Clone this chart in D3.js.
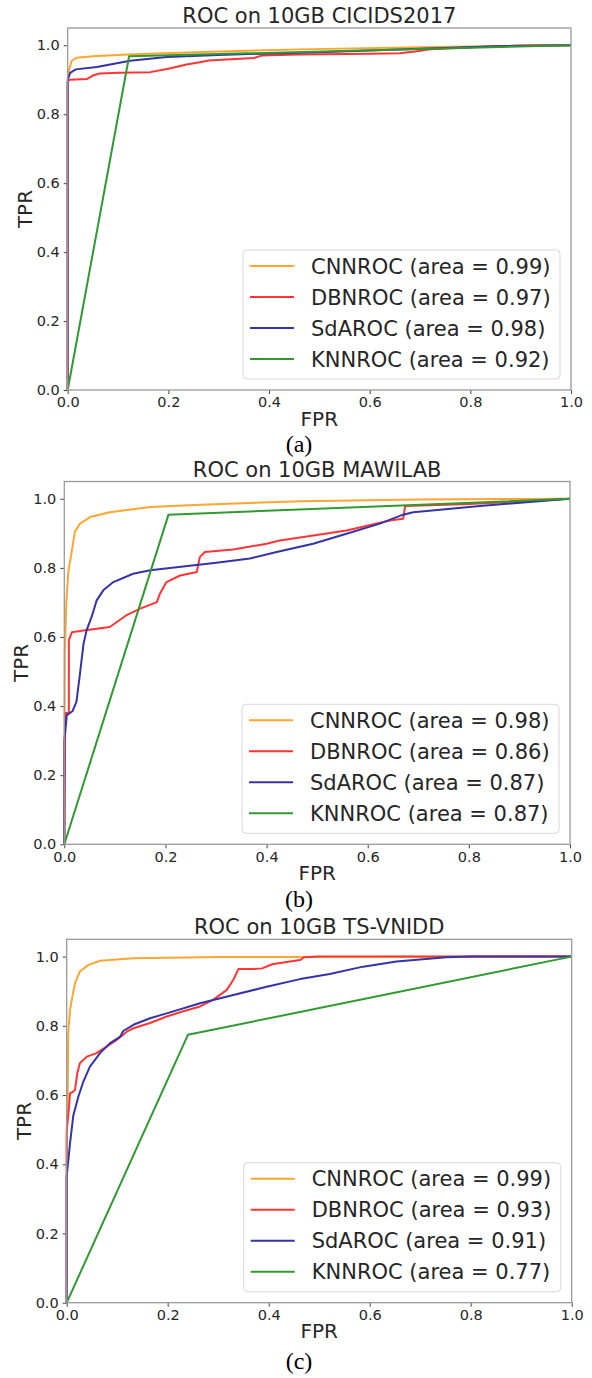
<!DOCTYPE html>
<html>
<head>
<meta charset="utf-8">
<script src="https://cdn.jsdelivr.net/npm/d3@7"></script>
<style>
  body { margin: 0; background: #fff; }
  svg text { font-family: "DejaVu Sans", sans-serif; fill: #262626; }
</style>
</head>
<body>
<svg id="fig" width="592" height="1378"></svg>
<script>
// ---- data: [FPR, TPR] points ----
var modelNames = ["CNNROC", "DBNROC", "SdAROC", "KNNROC"];
var modelColors = ["#ffa531", "#ff3434", "#3434a8", "#2f9a2f"];
var titles = ["ROC on 10GB CICIDS2017", "ROC on 10GB MAWILAB", "ROC on 10GB TS-VNIDD"];
var captions = ["(a)", "(b)", "(c)"];
var xTicks = [0, 0.2, 0.4, 0.6, 0.8, 1.0];
var yTicks = [0, 0.2, 0.4, 0.6, 0.8, 1.0];

var cicAuc = [0.99, 0.97, 0.98, 0.92];
var mawAuc = [0.98, 0.86, 0.87, 0.87];
var vniAuc = [0.99, 0.93, 0.91, 0.77];

var cicCnn = [[0,0],[0,0.88],[0.003,0.93],[0.008,0.955],[0.018,0.964],[0.05,0.968],[0.13,0.974],[0.3,0.982],[0.46,0.988],[0.7,0.994],[1,1]];
var cicDbn = [[0,0],[0,0.895],[0.004,0.9],[0.038,0.902],[0.05,0.912],[0.064,0.918],[0.1,0.92],[0.164,0.922],[0.2,0.932],[0.236,0.944],[0.26,0.95],[0.28,0.956],[0.37,0.963],[0.385,0.97],[0.46,0.973],[0.6,0.975],[0.66,0.977],[0.69,0.982],[0.72,0.988],[0.8,0.994],[0.9,0.999],[1,1]];
var cicSda = [[0,0],[0,0.9],[0.005,0.92],[0.016,0.93],[0.058,0.937],[0.124,0.955],[0.197,0.966],[0.3,0.972],[0.5,0.98],[0.7,0.99],[0.85,0.997],[1,1]];
var cicKnn = [[0,0],[0.122,0.968],[1,1]];

var mawCnn = [[0,0],[0.001,0.55],[0.004,0.7],[0.008,0.79],[0.015,0.85],[0.021,0.905],[0.031,0.928],[0.051,0.947],[0.09,0.961],[0.17,0.976],[0.27,0.983],[0.47,0.993],[0.7,0.998],[1,1]];
var mawDbn = [[0,0],[0.002,0.38],[0.009,0.38],[0.009,0.59],[0.015,0.614],[0.031,0.617],[0.09,0.629],[0.123,0.663],[0.15,0.682],[0.183,0.701],[0.189,0.725],[0.202,0.759],[0.229,0.778],[0.262,0.788],[0.268,0.831],[0.278,0.846],[0.334,0.853],[0.4,0.87],[0.426,0.879],[0.466,0.888],[0.558,0.908],[0.644,0.937],[0.67,0.942],[0.674,0.979],[0.8,0.985],[0.9,0.992],[1,1]];
var mawSda = [[0,0],[0,0.3],[0.005,0.374],[0.016,0.385],[0.024,0.412],[0.031,0.494],[0.038,0.58],[0.044,0.619],[0.054,0.658],[0.064,0.706],[0.077,0.735],[0.097,0.759],[0.136,0.783],[0.17,0.793],[0.235,0.804],[0.301,0.815],[0.367,0.827],[0.42,0.846],[0.492,0.87],[0.558,0.899],[0.624,0.928],[0.67,0.954],[0.69,0.961],[0.822,0.979],[1,1]];
var mawKnn = [[0,0],[0.206,0.954],[1,1]];

var vniCnn = [[0,0],[0,0.45],[0.002,0.6],[0.003,0.78],[0.0066,0.846],[0.01,0.875],[0.0165,0.923],[0.026,0.957],[0.043,0.976],[0.066,0.988],[0.132,0.995],[0.3,0.999],[1,1]];
var vniDbn = [[0,0],[0,0.5],[0.003,0.538],[0.0066,0.605],[0.013,0.61],[0.0165,0.615],[0.021,0.663],[0.026,0.692],[0.04,0.711],[0.059,0.721],[0.079,0.74],[0.099,0.759],[0.119,0.783],[0.132,0.793],[0.165,0.808],[0.198,0.827],[0.231,0.842],[0.264,0.856],[0.29,0.875],[0.317,0.904],[0.33,0.933],[0.34,0.964],[0.37,0.964],[0.387,0.966],[0.407,0.978],[0.442,0.986],[0.462,0.99],[0.47,0.998],[0.5,1],[1,1]];
var vniSda = [[0,0],[0,0.364],[0.0066,0.461],[0.013,0.54],[0.023,0.595],[0.033,0.639],[0.046,0.682],[0.066,0.721],[0.086,0.75],[0.106,0.769],[0.112,0.785],[0.132,0.803],[0.165,0.822],[0.198,0.836],[0.264,0.865],[0.33,0.889],[0.396,0.913],[0.462,0.935],[0.521,0.95],[0.587,0.971],[0.653,0.986],[0.752,0.998],[0.8,1],[1,1]];
var vniKnn = [[0,0],[0.24,0.774],[1,1]];

// ---- layout of the three stacked panels ----
var panels = [
  {left: 67.7, right: 571,   top: 28,    bottom: 390,    titleY: 23,  captionY: 452,  series: [cicCnn, cicDbn, cicSda, cicKnn], auc: cicAuc},
  {left: 64.3, right: 570,   top: 481.5, bottom: 844.3,  titleY: 477, captionY: 907,  series: [mawCnn, mawDbn, mawSda, mawKnn], auc: mawAuc},
  {left: 66.7, right: 571.7, top: 939.3, bottom: 1302.7, titleY: 934, captionY: 1369, series: [vniCnn, vniDbn, vniSda, vniKnn], auc: vniAuc}
];

var svg = d3.select("#fig");

panels.forEach(function(p, i) {
  var x = d3.scaleLinear().domain([0, 1]).range([p.left, p.right]);
  var y = d3.scaleLinear().domain([0, 1.05]).range([p.bottom, p.top]);
  var g = svg.append("g");

  // axes
  var xAxis = d3.axisBottom(x).tickValues(xTicks).tickSize(4).tickPadding(3).tickFormat(d3.format(".1f"));
  var yAxis = d3.axisLeft(y).tickValues(yTicks).tickSize(4).tickPadding(4).tickFormat(d3.format(".1f"));

  var gx = g.append("g").attr("transform", "translate(0," + p.bottom + ")").call(xAxis);
  var gy = g.append("g").attr("transform", "translate(" + p.left + ",0)").call(yAxis);
  [gx, gy].forEach(function(a) {
    a.select(".domain").remove();
    a.selectAll(".tick line").attr("stroke", "#444");
    a.selectAll(".tick text").attr("font-size", 14.5).attr("fill", "#262626")
      .style("font-family", "DejaVu Sans, sans-serif");
  });

  // curves
  var line = d3.line().x(function(d) { return x(d[0]); }).y(function(d) { return y(d[1]); });
  p.series.forEach(function(s, k) {
    g.append("path").datum(s)
      .attr("d", line)
      .attr("fill", "none")
      .attr("stroke", modelColors[k])
      .attr("stroke-width", 2)
      .attr("stroke-linejoin", "round");
  });

  // frame
  g.append("rect")
    .attr("x", p.left).attr("y", p.top)
    .attr("width", p.right - p.left).attr("height", p.bottom - p.top)
    .attr("fill", "none").attr("stroke", "#9a9a9a").attr("stroke-width", 1.3);

  // title and axis labels
  var cx = (p.left + p.right) / 2;
  g.append("text").attr("x", cx).attr("y", p.titleY)
    .attr("text-anchor", "middle").attr("font-size", 21).text(titles[i]);
  g.append("text").attr("x", cx).attr("y", p.bottom + 35.5)
    .attr("text-anchor", "middle").attr("font-size", 20).text("FPR");
  g.append("text")
    .attr("transform", "translate(" + (p.left - 36) + "," + ((p.top + p.bottom) / 2) + ") rotate(-90)")
    .attr("text-anchor", "middle").attr("font-size", 20).text("TPR");

  // legend, lower right
  var lw = 317, lh = 129;
  var lx = p.right - 11 - lw, ly = p.bottom - 11 - lh;
  var lg = g.append("g");
  lg.append("rect").attr("x", lx).attr("y", ly).attr("width", lw).attr("height", lh)
    .attr("rx", 4).attr("fill", "#fff").attr("stroke", "#d8d8d8");
  modelNames.forEach(function(name, k) {
    var ry = ly + 16 + 31 * k;
    lg.append("line").attr("x1", lx + 7).attr("x2", lx + 51).attr("y1", ry).attr("y2", ry)
      .attr("stroke", modelColors[k]).attr("stroke-width", 2);
    lg.append("text").attr("x", lx + 68).attr("y", ry).attr("dy", "0.36em")
      .attr("font-size", 21).text(name + " (area = " + p.auc[k].toFixed(2) + ")");
  });

  // sub-figure caption
  g.append("text").attr("x", 299).attr("y", p.captionY)
    .attr("text-anchor", "middle").attr("font-size", 24)
    .style("font-family", "Liberation Serif, Times New Roman, serif").style("fill", "#000")
    .text(captions[i]);
});
</script>
</body>
</html>
